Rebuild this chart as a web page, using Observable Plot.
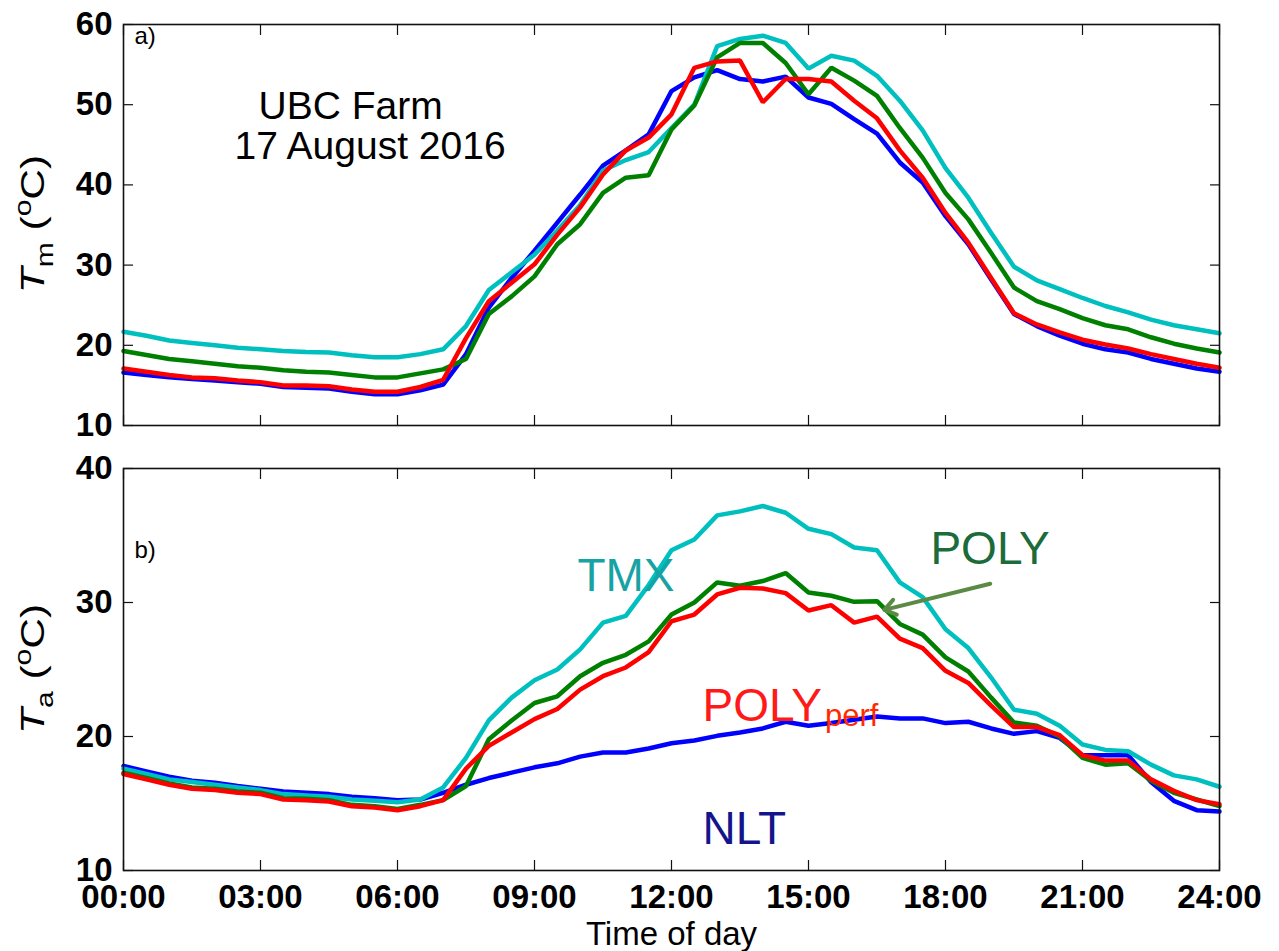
<!DOCTYPE html>
<html><head><meta charset="utf-8">
<script src="https://cdn.jsdelivr.net/npm/d3@7"></script>
<script src="https://cdn.jsdelivr.net/npm/@observablehq/plot@0.6"></script>
<style>
body{margin:0;background:#fff;}
#chart{position:relative;width:1279px;height:951px;background:#fff;}
#chart svg{display:block;}
</style></head><body><div id="chart"></div>
<script>
// ---------- data ----------
const hours = [0,0.5,1,1.5,2,2.5,3,3.5,4,4.5,5,5.5,6,6.5,7,7.5,8,8.5,9,9.5,10,10.5,11,11.5,12,12.5,13,13.5,14,14.5,15,15.5,16,16.5,17,17.5,18,18.5,19,19.5,20,20.5,21,21.5,22,22.5,23,23.5,24];

// panel a) Tm
const tmNLT = [16.6,16.3,16.0,15.8,15.6,15.4,15.2,14.8,14.7,14.6,14.2,13.9,13.9,14.4,15.1,18.9,24.7,28.4,31.8,35.3,38.8,42.4,44.3,46.3,51.7,53.4,54.3,53.2,52.9,53.5,50.9,50.1,48.2,46.4,42.8,40.3,36.1,32.6,28.2,23.9,22.4,21.2,20.2,19.5,19.1,18.3,17.7,17.1,16.7];
const tmTMX = [21.7,21.2,20.6,20.3,20.0,19.7,19.5,19.3,19.15,19.1,18.75,18.5,18.5,18.9,19.5,22.4,26.9,29.1,31.3,34.3,37.5,41.8,43.1,44.1,47.1,50.0,57.3,58.2,58.6,57.7,54.5,56.1,55.5,53.6,50.5,46.8,42.1,38.4,34.0,29.8,28.1,27.0,25.9,24.9,24.1,23.2,22.5,22.0,21.5];
const tmPOLY = [19.3,18.8,18.3,18.0,17.7,17.4,17.2,16.9,16.7,16.6,16.3,16.0,16.0,16.5,17.0,18.3,23.9,26.1,28.6,32.6,35.1,39.0,40.9,41.2,46.9,49.9,55.9,57.7,57.7,55.2,51.3,54.6,53.0,51.1,47.1,43.4,39.0,35.7,31.5,27.2,25.5,24.5,23.4,22.5,22.0,21.0,20.2,19.6,19.1];
const tmPOLYperf = [17.1,16.7,16.3,16.0,15.9,15.6,15.4,15.0,15.0,14.9,14.5,14.2,14.2,14.8,15.7,20.9,25.5,27.8,30.1,33.8,37.2,41.3,44.3,45.9,48.8,54.6,55.4,55.5,50.3,53.2,53.2,52.9,50.5,48.3,44.3,40.9,36.5,32.8,28.4,24.0,22.6,21.6,20.7,20.1,19.6,18.9,18.3,17.7,17.2];

// panel b) Ta
const taNLT = [17.8,17.4,17.0,16.7,16.55,16.3,16.1,15.9,15.8,15.7,15.5,15.4,15.25,15.3,15.8,16.4,16.9,17.3,17.7,18.0,18.5,18.8,18.8,19.1,19.5,19.7,20.05,20.3,20.6,21.1,20.8,21.0,21.25,21.5,21.35,21.35,21.0,21.1,20.6,20.2,20.4,19.9,18.6,18.6,18.6,16.6,15.2,14.5,14.4];
const taTMX = [17.6,17.2,16.8,16.6,16.4,16.2,16.0,15.7,15.6,15.5,15.3,15.2,15.1,15.3,16.2,18.4,21.2,22.9,24.2,25.0,26.5,28.5,29.0,31.3,33.9,34.7,36.5,36.8,37.2,36.7,35.5,35.1,34.1,33.9,31.5,30.4,28.0,26.6,24.4,22.0,21.7,20.8,19.4,19.0,18.9,17.9,17.1,16.8,16.25];
const taPOLY = [17.3,16.9,16.5,16.2,16.1,15.9,15.8,15.4,15.35,15.25,14.9,14.8,14.6,14.9,15.25,16.3,19.8,21.2,22.5,23.0,24.5,25.5,26.1,27.1,29.1,30.0,31.5,31.25,31.6,32.2,30.75,30.5,30.05,30.1,28.4,27.6,25.9,24.85,22.9,21.05,20.8,20.0,18.4,17.9,18.0,16.7,15.8,15.3,14.8];
const taPOLYperf = [17.2,16.8,16.4,16.1,16.0,15.8,15.7,15.3,15.25,15.15,14.8,14.7,14.5,14.8,15.25,17.6,19.3,20.3,21.3,22.05,23.5,24.5,25.15,26.3,28.6,29.1,30.6,31.1,31.05,30.7,29.4,29.8,28.5,28.95,27.3,26.6,24.9,24.0,22.3,20.7,20.7,20.1,18.6,18.2,18.2,16.8,15.95,15.25,14.95];

// ticks and labels
const xTicks = [0,3,6,9,12,15,18,21,24];
const xTickLabels = ["00:00","03:00","06:00","09:00","12:00","15:00","18:00","21:00","24:00"];
const tmTicks = [10,20,30,40,50,60];
const taTicks = [10,20,30,40];
const seriesNames = ["NLT","TMX","POLY","POLYperf"];
const seriesColors = ["#0000ff","#00bfbf","#008000","#ff0000"];

// in-panel annotations (data coordinates of panel b)
const labelText = ["TMX","POLY","POLY","NLT"];
const labelX = [9.94,17.67,12.68,12.68];
const labelY = [30.87,32.9,21.17,12.0];
const labelColor = ["#17a3a3","#1b6b3b","#ff1a1a","#14148c"];
const subText = ["perf"];
const subX = [15.36];
const subY = [20.75];
const arrowFrom = [18.98,31.4];
const arrowTo = [16.66,29.45];

// ---------- build ----------
const FONT = '"Liberation Sans", Arial, Helvetica, sans-serif';
const rows = (vals) => hours.map((h,i)=>({hour:h, value:vals[i]}));
const fmt = (d) => xTickLabels[xTicks.indexOf(d)];

function lines(sets){
  // draw order: NLT, TMX, POLY, POLYperf
  return sets.map((vals,i)=>Plot.line(rows(vals), {x:"hour", y:"value", stroke:seriesColors[i], strokeWidth:4.5, strokeLinejoin:"miter", curve:"linear"}));
}
function frameTicks(yTicks){
  return [
    Plot.axisX(xTicks, {anchor:"bottom", tickSize:-10, fill:"none", label:null, stroke:"#111", strokeWidth:1.2}),
    Plot.axisX(xTicks, {anchor:"top", tickSize:-10, fill:"none", label:null, stroke:"#111", strokeWidth:1.2}),
    Plot.axisY(yTicks, {anchor:"left", tickSize:-10, fill:"none", label:null, stroke:"#111", strokeWidth:1.2}),
    Plot.axisY(yTicks, {anchor:"right", tickSize:-10, fill:"none", label:null, stroke:"#111", strokeWidth:1.2}),
    Plot.axisY(yTicks, {anchor:"left", tickSize:0, tickPadding:11, label:null, fontSize:33, fontWeight:"bold", fill:"#000"})
  ];
}

const topPlot = Plot.plot({
  width:1279, height:445, marginLeft:123, marginRight:60, marginTop:24, marginBottom:20,
  style:{fontFamily:FONT, background:"white", color:"#000", overflow:"visible"},
  x:{domain:[0,24]}, y:{domain:[10,60]},
  marks:[
    ...lines([tmNLT,tmTMX,tmPOLY,tmPOLYperf]),
    ...frameTicks(tmTicks),
    Plot.frame({stroke:"#111", strokeWidth:1.6}),
    Plot.text(["a)"], {frameAnchor:"top-left", dx:11, dy:19, textAnchor:"start", lineAnchor:"bottom", fontSize:24, fill:"#000"}),
    Plot.text(["UBC Farm"], {frameAnchor:"top-left", dx:135, dy:94, textAnchor:"start", lineAnchor:"bottom", fontSize:39, fill:"#000"}),
    Plot.text(["17 August 2016"], {frameAnchor:"top-left", dx:111, dy:134, textAnchor:"start", lineAnchor:"bottom", fontSize:39, fill:"#000"})
  ]
});

const ann = labelText.map((t,i)=>({t, x:labelX[i], y:labelY[i], c:labelColor[i]}));
const bottomPlot = Plot.plot({
  width:1279, height:506, marginLeft:123, marginRight:60, marginTop:23, marginBottom:81,
  style:{fontFamily:FONT, background:"white", color:"#000", overflow:"visible"},
  x:{domain:[0,24]}, y:{domain:[10,40]},
  marks:[
    ...lines([taNLT,taTMX,taPOLY,taPOLYperf]),
    ...frameTicks(taTicks),
    Plot.axisX(xTicks, {anchor:"bottom", tickSize:0, tickPadding:14, tickFormat:fmt, label:null, fontSize:33, fontWeight:"bold", fill:"#000"}),
    Plot.frame({stroke:"#111", strokeWidth:1.6}),
    Plot.text(["Time of day"], {frameAnchor:"bottom", dy:74, lineAnchor:"bottom", fontSize:33, fill:"#000"}),
    Plot.text(["b)"], {frameAnchor:"top-left", dx:11, dy:89, textAnchor:"start", lineAnchor:"bottom", fontSize:24, fill:"#000"}),
    Plot.text(ann, {x:"x", y:"y", text:"t", fill:d=>d.c, textAnchor:"start", lineAnchor:"bottom", fontSize:46}),
    Plot.text(subText.map((t,i)=>({t, x:subX[i], y:subY[i]})), {x:"x", y:"y", text:"t", fill:"#ff2a00", textAnchor:"start", lineAnchor:"bottom", fontSize:31}),
    Plot.arrow([{x1:arrowFrom[0], y1:arrowFrom[1], x2:arrowTo[0], y2:arrowTo[1]}], {x1:"x1", y1:"y1", x2:"x2", y2:"y2", stroke:"#5b8a45", strokeWidth:4, headLength:5, headAngle:70})
  ]
});

function addYLabel(svg, sub, cy){
  const t = d3.select(svg).append("text")
    .attr("transform", `translate(44,${cy}) rotate(-90) scale(1.25,1)`)
    .attr("text-anchor","middle")
    .attr("font-size",34)
    .attr("font-family",FONT)
    .attr("fill","#000");
  t.append("tspan").attr("font-style","italic").text("T");
  t.append("tspan").attr("font-size",24).attr("dy",9).text(sub);
  t.append("tspan").attr("dy",-9).text(" (");
  t.append("tspan").attr("font-size",24).attr("dy",-13).text("o");
  t.append("tspan").attr("dy",13).text("C)");
}
addYLabel(topPlot, "m", 224);
addYLabel(bottomPlot, "a", 224);

const chart = document.getElementById("chart");
chart.appendChild(topPlot);
chart.appendChild(bottomPlot);
</script></body></html>
